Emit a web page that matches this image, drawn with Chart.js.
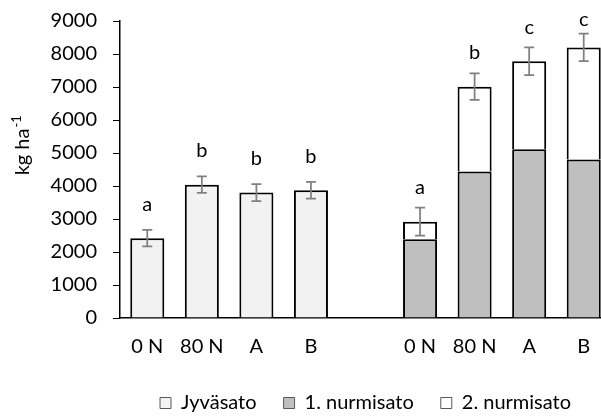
<!DOCTYPE html>
<html>
<head>
<meta charset="utf-8">
<script src="https://cdn.jsdelivr.net/npm/chart.js@4"></script>
<style>
  html, body { margin: 0; padding: 0; background: #fff; overflow: hidden; }
</style>
</head>
<body>
<canvas id="chart" width="611" height="418"></canvas>
<script>
// kategoriat: kaksi ryhmää, välissä tyhjä paikka
var labels = ['0 N', '80 N', 'A', 'B', '', '0 N', '80 N', 'A', 'B'];

// sadot kg/ha
var jyvasato = [2420, 4040, 3800, 3870, null, null, null, null, null];
var nurmisato1 = [null, null, null, null, null, 2390, 4440, 5110, 4800];
var nurmisato2 = [null, null, null, null, null, 530, 2570, 2670, 3400];

// keskivirheet (kokonaissadon päällä)
var virheet = [250, 250, 260, 255, null, 425, 400, 420, 415];

// tilastolliset kirjaimet
var kirjaimet = ['a', 'b', 'b', 'b', '', 'a', 'b', 'c', 'c'];

var yTicks = [0, 1000, 2000, 3000, 4000, 5000, 6000, 7000, 8000, 9000];

var fontFamily = 'Lato, "Open Sans", sans-serif';
var fontSize = 20;

//plugin: virhepalkit, kirjaimet, y-akselin otsikko ja selitteen paikka
var extrasPlugin = {
  id: 'extras',
  afterLayout: function(chart) {
    var lg = chart.legend;
    var ca = chart.chartArea;
    var dx = (ca.left + ca.right) / 2 - (lg.left + lg.right) / 2;
    lg.left += dx;
    lg.right += dx;
    lg.top += 5;
    lg.bottom += 5;
  },
  afterDatasetsDraw: function(chart) {
    var ctx = chart.ctx;
    var xs = chart.scales.x;
    var ys = chart.scales.y;
    var ca = chart.chartArea;

    ctx.save();
    for (var i = 0; i < labels.length; i++) {
      if (virheet[i] == null) continue;
      var total = (jyvasato[i] || 0) + (nurmisato1[i] || 0) + (nurmisato2[i] || 0);
      var x = xs.getPixelForValue(i);
      var yHi = ys.getPixelForValue(total + virheet[i]);
      var yLo = ys.getPixelForValue(total - virheet[i]);

      ctx.strokeStyle = '#808080';
      ctx.lineWidth = 1.75;
      ctx.beginPath();
      ctx.moveTo(x, yHi); ctx.lineTo(x, yLo);
      ctx.moveTo(x - 5, yHi); ctx.lineTo(x + 5, yHi);
      ctx.moveTo(x - 5, yLo); ctx.lineTo(x + 5, yLo);
      ctx.stroke();

      // kirjain palkin yläpuolelle
      var yTop = ys.getPixelForValue(total);
      var yTxt = Math.max(yTop - 34, ca.top - 1);
      ctx.fillStyle = '#000';
      ctx.font = fontSize + 'px ' + fontFamily;
      ctx.textAlign = 'center';
      ctx.textBaseline = 'middle';
      ctx.fillText(kirjaimet[i], x, yTxt);
    }

    // y-akselin otsikko yläindeksillä
    var main = 'kg ha';
    var sup = '-1';
    ctx.font = fontSize + 'px ' + fontFamily;
    var wMain = ctx.measureText(main).width;
    ctx.font = '13px ' + fontFamily;
    var wSup = ctx.measureText(sup).width;
    var cy = ca.top + (ca.bottom - ca.top) * 0.42;
    ctx.translate(29, cy);
    ctx.rotate(-Math.PI / 2);
    ctx.textAlign = 'left';
    ctx.textBaseline = 'alphabetic';
    var start = -(wMain + wSup) / 2;
    ctx.font = fontSize + 'px ' + fontFamily;
    ctx.fillText(main, start, 0);
    ctx.font = '13px ' + fontFamily;
    ctx.fillText(sup, start + wMain + 1, -8);
    ctx.restore();
  }
};

var ctx = document.getElementById('chart');

var chart = new Chart(ctx, {
  type: 'bar',
  data: {
    labels: labels,
    datasets: [{
      label: 'Jyväsato',
      data: jyvasato,
      backgroundColor: '#f2f2f2',
      borderColor: '#000',
      borderWidth: 2
    }, {
      label: '1. nurmisato',
      data: nurmisato1,
      backgroundColor: '#bfbfbf',
      borderColor: '#000',
      borderWidth: 2
    }, {
      label: '2. nurmisato',
      data: nurmisato2,
      backgroundColor: '#ffffff',
      borderColor: '#000',
      borderWidth: 2
    }]
  },
  plugins: [extrasPlugin],
  options: {
    responsive: false,
    animation: false,
    layout: {
      padding: { top: 21, right: 0, bottom: 0, left: 0 }
    },
    datasets: {
      bar: { barPercentage: 0.624, categoryPercentage: 1 }
    },
    plugins: {
      tooltip: { enabled: false },
      legend: {
        position: 'bottom',
        labels: {
          color: '#000',
          font: { family: fontFamily, size: fontSize },
          boxWidth: 11,
          boxHeight: 11,
          padding: 27,
          generateLabels: function(chart) {
            return chart.data.datasets.map(function(ds, i) {
              return {
                text: ds.label,
                fillStyle: ds.backgroundColor,
                strokeStyle: '#595959',
                lineWidth: 1,
                fontColor: '#000',
                datasetIndex: i
              };
            });
          }
        }
      }
    },
    scales: {
      x: {
        stacked: true,
        grid: { display: false, drawTicks: false },
        border: { display: true, color: '#000', width: 1.5 },
        ticks: {
          color: '#000',
          font: { family: fontFamily, size: fontSize },
          padding: 17,
          maxRotation: 0,
          autoSkip: false
        },
        afterFit: function(scale) { scale.height = 43; }
      },
      y: {
        stacked: true,
        min: 0,
        max: 9000,
        afterBuildTicks: function(scale) {
          scale.ticks = yTicks.map(function(v) { return { value: v }; });
        },
        grid: { display: true, drawOnChartArea: false, drawTicks: true, tickLength: 7, color: '#000', lineWidth: 1 },
        border: { display: true, color: '#000', width: 1.5 },
        ticks: {
          color: '#000',
          font: { family: fontFamily, size: fontSize },
          padding: 16,
          callback: function(value) { return String(value); }
        },
        afterFit: function(scale) {
          scale.width = 120;
          scale.paddingTop = 0;
          scale.paddingBottom = 0;
        }
      }
    }
  }
});
</script>
</body>
</html>
